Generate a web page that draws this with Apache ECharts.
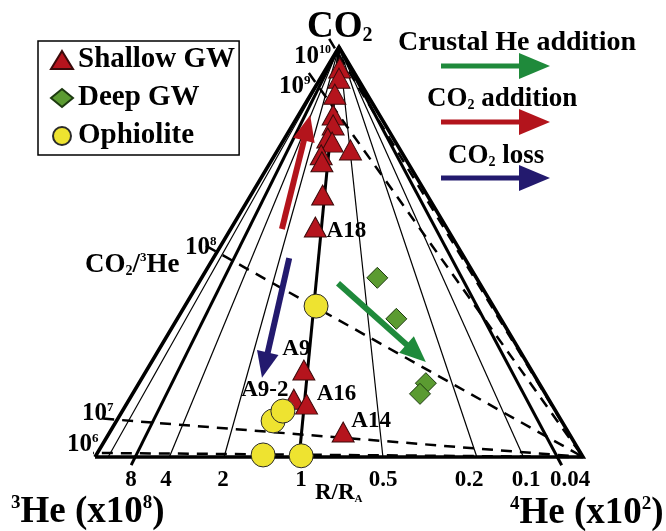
<!DOCTYPE html>
<html><head><meta charset="utf-8">
<script src="https://cdn.jsdelivr.net/npm/echarts@6/dist/echarts.min.js"></script>
<style>html,body{margin:0;padding:0;background:#fff}#c{width:666px;height:531px}</style>
</head><body><div id="c"></div>
<script>
// ---------------- DATA ----------------
// Ternary compositions: [CO2, 3He (x1e8), 4He (x1e2)] (relative fractions)
const AIR_RATIO_SCALED = 1.39; // (3He/4He)air scaled by 1e8/1e2
const rRaLines = [26, 8, 4, 2, 1, 0.5, 0.2, 0.1, 0.04];
const rRaTickLabels = ['8', '4', '2', '1', '0.5', '0.2', '0.1', '0.04'];
const co2He3Lines = [1e6, 1e7, 1e8, 1e9, 1e10];
const co2He3Labels = ['6', '7', '8', '9', '10'];

const shallowNames = ['', '', '', '', '', '', '', '', '', '', '', 'A18', 'A9', 'A9-2', 'A16', 'A14'];
const shallowCO2 = [0.949, 0.924, 0.885, 0.834, 0.810, 0.778, 0.768, 0.749, 0.737, 0.720, 0.639, 0.561, 0.212, 0.141, 0.129, 0.061];
const shallowHe3 = [0.024, 0.038, 0.066, 0.095, 0.107, 0.134, 0.130, 0.102, 0.168, 0.175, 0.214, 0.268, 0.466, 0.522, 0.502, 0.461];
const shallowHe4 = [0.027, 0.038, 0.049, 0.071, 0.083, 0.088, 0.102, 0.149, 0.095, 0.105, 0.147, 0.171, 0.322, 0.337, 0.369, 0.478];

const deepCO2 = [0.437, 0.337, 0.180, 0.154];
const deepHe3 = [0.203, 0.214, 0.232, 0.257];
const deepHe4 = [0.360, 0.449, 0.588, 0.589];

const ophCO2 = [0.368, 0.088, 0.112, 0.005, 0.003];
const ophHe3 = [0.363, 0.591, 0.559, 0.653, 0.576];
const ophHe4 = [0.269, 0.321, 0.329, 0.342, 0.421];

// process arrows: tail and tip compositions [CO2, 3He, 4He]
const arrowNames = ['CO2 addition', 'CO2 loss', 'Crustal He addition'];
const arrowTail = [[0.556, 0.339, 0.105], [0.485, 0.3595, 0.1555], [0.424, 0.290, 0.286]];
const arrowTip  = [[0.834, 0.142, 0.024], [0.193, 0.561, 0.2455], [0.232, 0.206, 0.562]];

// ---------------- STYLE ----------------
const FF = '"Liberation Serif", "Times New Roman", serif';
const C_RED = '#b3141c', C_GREEN = '#1f8a3b', C_BLUE = '#231a6e';
const thickR = [8, 1, 0.04];
const extendR = [8, 0.04];

function proj(c) {
  const s = c[0] + c[1] + c[2];
  const co2 = c[0] / s, he4 = c[2] / s;
  return [he4 + co2 / 2, co2];
}

const series = [];
// triangle frame
series.push({type: 'line', data: [[0, 0], [0.5, 1], [1, 0], [0, 0]], symbol: 'none', silent: true, clip: false,
  lineStyle: {color: '#000', width: 3.5, join: 'miter'}, z: 3});

// R/RA lines
rRaLines.forEach(r => {
  const apex = proj([1, 0, 0]);
  const base = proj([0, AIR_RATIO_SCALED * r, 1]);
  let end = base;
  if (extendR.includes(r)) end = [base[0] + 0.02 * (base[0] - apex[0]), base[1] + 0.02 * (base[1] - apex[1])];
  series.push({type: 'line', data: [apex, end], symbol: 'none', silent: true, clip: false,
    lineStyle: {color: '#000', width: thickR.includes(r) ? 3 : 1.2}, z: 2});
});

// CO2/3He lines (dashed) to the 4He vertex
co2He3Lines.forEach(v => {
  const left = proj([v / 1e8, 1, 0]);
  const right = proj([0, 0, 1]);
  const start = [left[0] + 0.03 * (left[0] - right[0]), left[1] + 0.03 * (left[1] - right[1])];
  series.push({type: 'line', data: [start, right], symbol: 'none', silent: true, clip: false,
    lineStyle: {color: '#000', width: 2.5, type: [11, 8]}, z: 2});
});

// arrows
const arrowColors = [C_RED, C_BLUE, C_GREEN];
series.push({
  type: 'custom', clip: false, silent: true, z: 4,
  data: arrowTail.map((t, i) => { const a = proj(t), b = proj(arrowTip[i]); return [a[0], a[1], b[0], b[1], i]; }),
  encode: {x: [0, 2], y: [1, 3]},
  renderItem: function (params, api) {
    const p0 = api.coord([api.value(0), api.value(1)]);
    const p1 = api.coord([api.value(2), api.value(3)]);
    const col = arrowColors[api.value(4)];
    const dx = p1[0] - p0[0], dy = p1[1] - p0[1];
    const L = Math.sqrt(dx * dx + dy * dy);
    const ux = dx / L, uy = dy / L, nx = -uy, ny = ux;
    const hl = 26, hw = 11;
    const bx = p1[0] - ux * hl, by = p1[1] - uy * hl;
    return {type: 'group', children: [
      {type: 'line', shape: {x1: p0[0], y1: p0[1], x2: bx + ux * 2, y2: by + uy * 2}, style: {stroke: col, lineWidth: 6}},
      {type: 'polygon', shape: {points: [[p1[0], p1[1]], [bx + nx * hw, by + ny * hw], [bx - nx * hw, by - ny * hw]]}, style: {fill: col}}
    ]};
  }
});

function pts(co2, he3, he4, names) {
  return co2.map((c, i) => ({name: names ? names[i] : '', value: proj([c, he3[i], he4[i]])}));
}

const labelPlace = {
  'A18': [31, 4], 'A9': [-7.5, -21.5], 'A9-2': [-29, -9.5], 'A16': [30, -10.5], 'A14': [28, -10.5]
};
const shallowData = pts(shallowCO2, shallowHe3, shallowHe4, shallowNames).map(d => {
  if (d.name) d.label = {show: true, position: 'inside', offset: labelPlace[d.name], formatter: '{b}',
    fontSize: 23, fontWeight: 'bold', fontFamily: FF, color: '#000'};
  return d;
});

series.push({name: 'Deep GW', type: 'scatter', symbol: 'diamond', symbolSize: [21, 21], clip: false, z: 5,
  itemStyle: {color: '#5b9b31', borderColor: '#1d3a10', borderWidth: 1, opacity: 1},
  data: pts(deepCO2, deepHe3, deepHe4)});
series.push({name: 'Shallow GW', type: 'scatter', symbol: 'triangle', symbolSize: [22, 20], clip: false, z: 5,
  itemStyle: {color: '#b5141d', borderColor: '#3a0a0a', borderWidth: 1, opacity: 1},
  label: {show: false}, data: shallowData});
series.push({name: 'Ophiolite', type: 'scatter', symbol: 'circle', symbolSize: 24, clip: false, z: 6,
  itemStyle: {color: '#eee330', borderColor: '#2a2a2a', borderWidth: 1, opacity: 1},
  data: pts(ophCO2, ophHe3, ophHe4)});

// ---------------- TEXT ----------------
function rich(x, yc, F, parts) {
  // parts: [text, kind, size, lineHeight]
  const r = {m: {fontSize: F, lineHeight: F, fontWeight: 'bold', fontFamily: FF, fill: '#000'}};
  let s = '';
  parts.forEach((p, i) => {
    if (p[1] === 'm') { s += '{m|' + p[0] + '}'; }
    else {
      const k = 't' + i;
      r[k] = {fontSize: p[2], lineHeight: p[3], fontWeight: 'bold', fontFamily: FF, fill: '#000',
        verticalAlign: p[1] === 'sup' ? 'top' : 'bottom'};
      s += '{' + k + '|' + p[0] + '}';
    }
  });
  return {type: 'text', x: x, y: yc - F / 2, z: 10, silent: true,
    style: {text: s, rich: r, align: 'left', verticalAlign: 'top'}};
}
function plain(x, yc, F, t, align) {
  return {type: 'text', x: x, y: yc, z: 10, silent: true,
    style: {text: t, fontSize: F, fontWeight: 'bold', fontFamily: FF, fill: '#000', align: align || 'left', verticalAlign: 'middle'}};
}

const graphics = [];
graphics.push(rich(307, 27.5, 37, [['CO', 'm'], ['2', 'sub', 20, 14]]));
const expPos = [[67, 445, 5], [82, 414, 7], [185, 247.5, 8], [279, 87, 6], [294, 56.5, 4]];
co2He3Labels.forEach((e, i) => {
  const p = expPos[i];
  graphics.push(rich(p[0], p[1], 25, [['10', 'm'], [e, 'sup', e.length > 1 ? 12 : 13, p[2]]]));
});
graphics.push(rich(85, 265, 27, [['CO', 'm'], ['2', 'sub', 14, 11], ['/', 'm'], ['3', 'sup', 13, 12], ['He', 'm']]));
const tickX = [131, 166, 223, 301, 383, 469, 526, 570];
rRaTickLabels.forEach((t, i) => graphics.push(plain(tickX[i], 480, 23, t, 'center')));
graphics.push(rich(315, 493.5, 23, [['R/R', 'm'], ['A', 'sub', 11, 10]]));
graphics.push(rich(11, 512, 37, [['3', 'sup', 19, 5], ['He (x10', 'm'], ['8', 'sup', 19, 15], [')', 'm']]));
graphics.push(rich(510, 513, 37, [['4', 'sup', 19, 7], ['He (x10', 'm'], ['2', 'sup', 19, 19], [')', 'm']]));

// arrow key
graphics.push(plain(398, 43, 28, 'Crustal He addition'));
graphics.push(rich(427, 99, 27, [['CO', 'm'], ['2', 'sub', 14, 11], [' addition', 'm']]));
graphics.push(rich(448, 156, 27, [['CO', 'm'], ['2', 'sub', 14, 11], [' loss', 'm']]));
[[66, C_GREEN], [122, C_RED], [178, C_BLUE]].forEach(a => {
  graphics.push({type: 'line', silent: true, z: 10, shape: {x1: 441, y1: a[0], x2: 522, y2: a[0]}, style: {stroke: a[1], lineWidth: 5}});
  graphics.push({type: 'polygon', silent: true, z: 10, shape: {points: [[519, a[0] - 13], [550, a[0]], [519, a[0] + 13]]}, style: {fill: a[1]}});
});

const chart = echarts.init(document.getElementById('c'), null, {renderer: 'canvas'});
chart.setOption({
  animation: false,
  backgroundColor: '#fff',
  grid: {left: 95, top: 47, width: 488, height: 410},
  xAxis: {type: 'value', min: 0, max: 1, show: false},
  yAxis: {type: 'value', min: 0, max: 1, show: false},
  legend: {
    data: ['Shallow GW', 'Deep GW', 'Ophiolite'],
    orient: 'vertical', left: 38, top: 41,
    padding: [4, 4, 4, 12], itemGap: 8, itemWidth: 22, itemHeight: 18,
    borderColor: '#000', borderWidth: 1.5, backgroundColor: '#fff',
    textStyle: {fontSize: 29, fontWeight: 'bold', fontFamily: FF, color: '#000', lineHeight: 30},
    selectedMode: false
  },
  series: series,
  graphic: graphics
});
</script></body></html>
